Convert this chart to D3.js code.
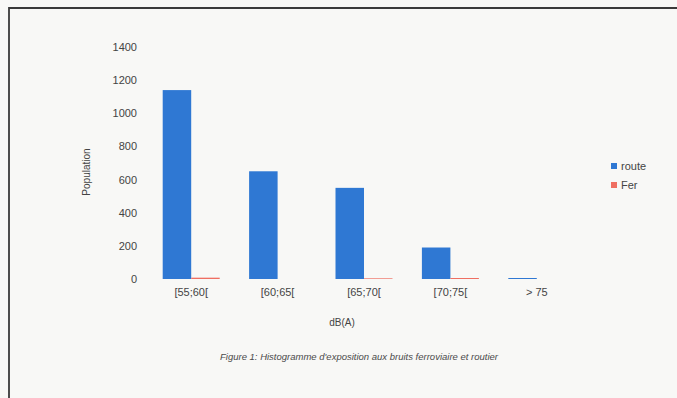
<!DOCTYPE html>
<html><head><meta charset="utf-8">
<script src="https://cdn.jsdelivr.net/npm/d3@7"></script>
<style>
html,body{margin:0;padding:0;background:#f8f8f6;}
svg{display:block;font-family:"Liberation Sans",Arial,sans-serif;}
</style></head>
<body>
<script>
const categories = ["[55;60[", "[60;65[", "[65;70[", "[70;75[", "> 75"];
const seriesNames = ["route", "Fer"];
const route = [1140, 650, 550, 190, 6];
const fer = [8, 0, 4, 6, 0];
const yTicks = [0, 200, 400, 600, 800, 1000, 1200, 1400];
const xTitle = "dB(A)";
const yTitle = "Population";
const caption = "Figure 1: Histogramme d'exposition aux bruits ferroviaire et routier";

const W = 677, H = 398;
const colors = {route: "#2f78d3", Fer: "#ef6f62"};
const svg = d3.select("body").append("svg").attr("width", W).attr("height", H);

// scanned page frame
svg.append("path").attr("d", `M9,${H} L9,8 L${W},8`)
  .attr("fill", "none").attr("stroke", "#3a3a3a").attr("stroke-width", 1.8);

const x0 = d3.scaleBand().domain(categories).range([148, 580]).paddingInner(0).paddingOuter(0);
const x1 = d3.scaleBand().domain(seriesNames).range([0, 57]);
const y = d3.scaleLinear().domain([0, 1400]).range([279, 47]);

const data = categories.map((c, i) => ({cat: c, route: route[i], Fer: fer[i]}));

const g = svg.append("g");
const groups = g.selectAll("g.grp").data(data).join("g")
  .attr("transform", d => `translate(${x0(d.cat) + x0.bandwidth()/2 - 28.5},0)`);
groups.selectAll("rect").data(d => seriesNames.map(k => ({k, v: d[k]}))).join("rect")
  .attr("x", d => x1(d.k))
  .attr("width", x1.bandwidth())
  .attr("y", d => y(d.v))
  .attr("height", d => y(0) - y(d.v))
  .attr("fill", d => colors[d.k]);

// y axis (labels only)
const yAxis = d3.axisLeft(y).tickValues(yTicks).tickSize(0).tickPadding(0).tickFormat(d3.format("d"));
const ya = svg.append("g").attr("transform", "translate(137,0)").call(yAxis);
ya.select(".domain").remove();
ya.selectAll("text").attr("font-size", 11).attr("fill", "#444").attr("font-family", "Liberation Sans, Arial, sans-serif");

// x axis (labels only)
const xAxis = d3.axisBottom(x0).tickSize(0).tickPadding(0);
const xa = svg.append("g").attr("transform", "translate(0,288)").call(xAxis);
xa.select(".domain").remove();
xa.selectAll("text").attr("font-size", 11).attr("fill", "#444").attr("font-family", "Liberation Sans, Arial, sans-serif");

svg.append("text").attr("x", 342).attr("y", 326).attr("text-anchor", "middle")
  .attr("font-size", 10).attr("fill", "#444").text(xTitle);

svg.append("text").attr("transform", "translate(90,172) rotate(-90)").attr("text-anchor", "middle")
  .attr("font-size", 10).attr("fill", "#444").text(yTitle);

svg.append("text").attr("x", 359).attr("y", 360).attr("text-anchor", "middle")
  .attr("font-size", 9.5).attr("font-style", "italic").attr("fill", "#4a4a4a").text(caption);

// legend
const leg = svg.append("g").attr("transform", "translate(611,163)");
seriesNames.forEach((s, i) => {
  const r = leg.append("g").attr("transform", `translate(0,${i*19})`);
  r.append("rect").attr("width", 6).attr("height", 6).attr("fill", colors[s]);
  r.append("text").attr("x", 10).attr("y", 7).attr("font-size", 11).attr("fill", "#444").text(s);
});
</script>
</body></html>
